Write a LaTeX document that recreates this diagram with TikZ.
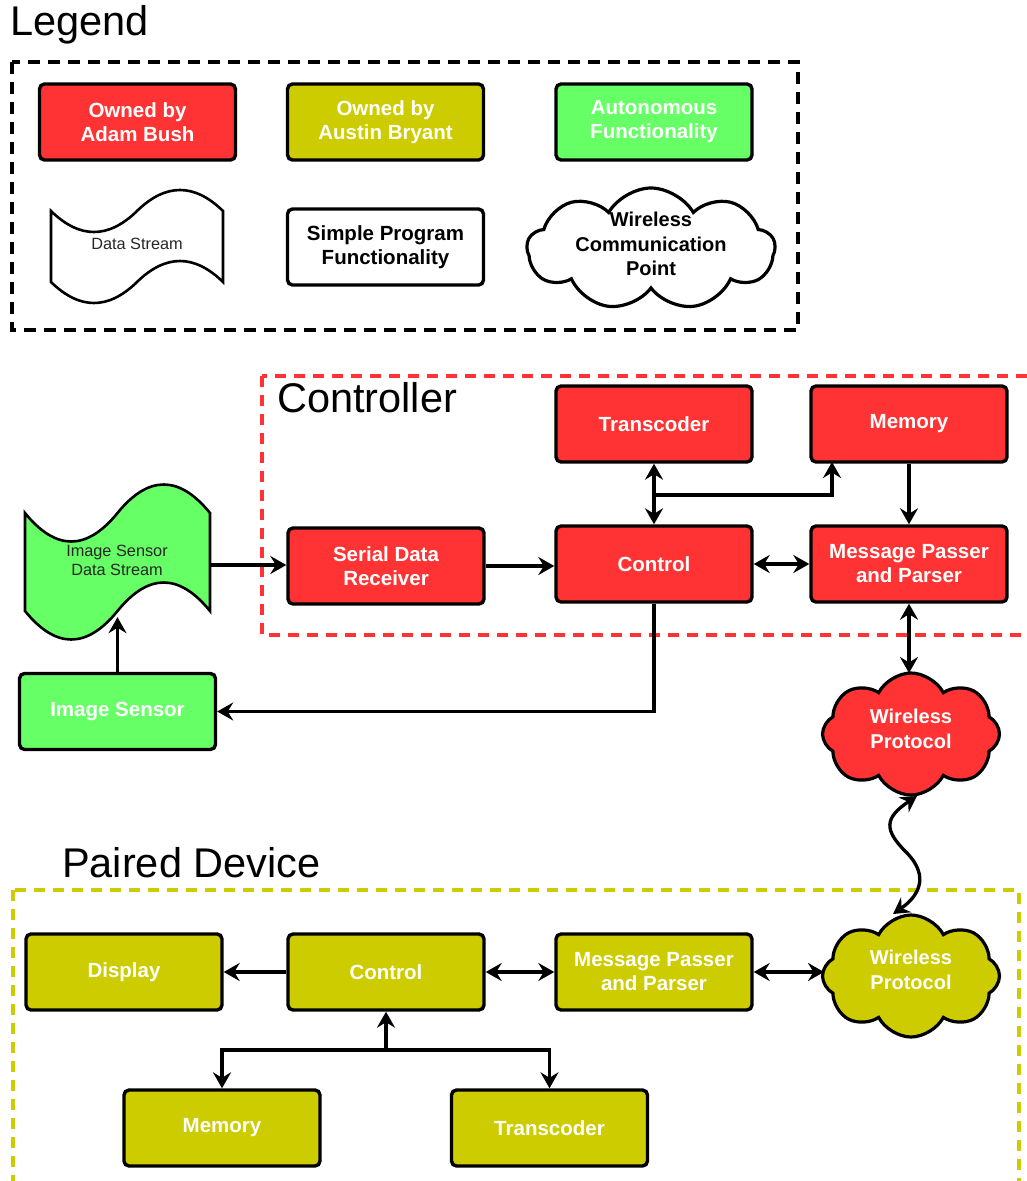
\documentclass[tikz,border=0pt]{standalone}
\usepackage{fontspec}
\setmainfont{Liberation Sans}
\usetikzlibrary{shapes.symbols,arrows.meta}
\definecolor{rd}{HTML}{FF3333}
\definecolor{ol}{HTML}{CCCC00}
\definecolor{gr}{HTML}{66FF66}
\newcommand\mystream[6]{% x0 x1 yt yb A fill
  \draw[line width=2.6pt,fill=#6]
   (#1,#3) .. controls ({#1+(#2-#1)/6},{#3+#5}) and ({#1+(#2-#1)/3},{#3+#5}) .. ({(#1+#2)/2},#3)
   .. controls ({#1+(#2-#1)*2/3},{#3-#5}) and ({#1+(#2-#1)*5/6},{#3-#5}) .. (#2,#3)
   -- (#2,#4)
   .. controls ({#2-(#2-#1)/6},{#4-#5}) and ({#2-(#2-#1)/3},{#4-#5}) .. ({(#1+#2)/2},#4)
   .. controls ({#1+(#2-#1)/3},{#4+#5}) and ({#1+(#2-#1)/6},{#4+#5}) .. (#1,#4)
   -- cycle;}
\begin{document}
\begin{tikzpicture}[x=1pt,y=-1pt,
  box/.style={draw=black,line width=3.4pt,rounded corners=5pt,minimum width=196pt,minimum height=76pt,
    inner sep=0pt,align=center,text=white,font=\fontsize{20.5}{24}\selectfont\bfseries},
  cloudsty/.style={cloud,cloud puffs=8,cloud puff arc=125,cloud ignores aspect,draw=black,line width=3.2pt,inner sep=0pt},
  cloudtxt/.style={align=center,inner sep=0pt,text=white,font=\fontsize{20}{24.5}\selectfont\bfseries},
  streamtxt/.style={align=center,inner sep=0pt,text=black!85,font=\fontsize{16.3}{19}\selectfont},
  title/.style={anchor=base west,inner sep=0pt,font=\fontsize{41.5}{44}\selectfont},
  tip/.tip={Stealth[length=16pt,width=18pt,inset=5.5pt]},
  conn/.style={line width=3.3pt,-tip},
  dconn/.style={line width=3.3pt,tip-tip}]
\clip (0,0) rectangle (1027,1181);
\fill[white] (0,0) rectangle (1027,1181);

% ---------- Legend ----------
\node[title] (tL) at (10,35) {Legend};
\draw[black,line width=3.6pt,dash pattern=on 12pt off 8pt] (12,62) rectangle (798,330);
\node[box,fill=rd] (lgA) at (137.5,122) {Owned by\\Adam Bush};
\node[box,fill=ol] (lgB) at (385.5,122) {Owned by\\Austin Bryant};
\node[box,fill=gr] (lgC) at (654,122) {Autonomous\\Functionality};
\mystream{51}{223}{211}{282}{28}{white}
\node[streamtxt] (lgS) at (137,244) {Data Stream};
\node[box,fill=white,text=black] (lgD) at (385.5,247) {Simple Program\\Functionality};
\node[cloudsty,cloud puffs=9,cloud puff arc=120,fill=white,minimum width=248pt,minimum height=122pt] (lgW) at (651,249) {};
\node[cloudtxt,text=black] (lgWt) at (651,244) {Wireless\\Communication\\Point};

% ---------- Controller ----------
\draw[rd,line width=3.2pt,dash pattern=on 11pt off 8pt] (262,376) rectangle (1060,635);
\node[title] (tC) at (277,412) {Controller};
\node[box,fill=rd] (tr1) at (654,424) {Transcoder};
\node[box,fill=rd] (mem1) at (909,424) {Memory};
\node[box,fill=rd] (sdr) at (386,566) {Serial Data\\Receiver};
\node[box,fill=rd] (ctl1) at (654,564) {Control};
\node[box,fill=rd] (mpp1) at (909,564) {Message Passer\\and Parser};
\mystream{25}{210}{513}{611}{38}{gr}
\node[minimum width=185pt,minimum height=104pt,inner sep=0pt] (isds) at (117.5,565) {};
\node[streamtxt] (isdst) at (117,560) {Image Sensor\\Data Stream};
\node[box,fill=gr] (imgs) at (117.5,711.5) {Image Sensor};
\node[cloudsty,fill=rd,minimum width=177pt,minimum height=122pt] (wp1) at (911,734) {};
\node[cloudtxt] (wp1t) at (911,729) {Wireless\\Protocol};

% ---------- Paired device ----------
\draw[ol,line width=3.2pt,dash pattern=on 11pt off 8pt] (13,890) rectangle (1019,1230);
\node[title] (tP) at (62,877) {Paired Device};
\node[box,fill=ol] (disp) at (124,972) {Display};
\node[box,fill=ol] (ctl2) at (386,972) {Control};
\node[box,fill=ol] (mpp2) at (654,972) {Message Passer\\and Parser};
\node[box,fill=ol] (mem2) at (222,1128) {Memory};
\node[box,fill=ol] (tr2) at (549.5,1128) {Transcoder};
\node[cloudsty,fill=ol,minimum width=177pt,minimum height=122pt] (wp2) at (911,976) {};
\node[cloudtxt] (wp2t) at (911,970) {Wireless\\Protocol};

% ---------- Connectors ----------
\draw[conn] (isds.east) -- (sdr.west |- isds.east);
\draw[conn] (sdr.east) -- (ctl1.west |- sdr.east);
\draw[dconn] (ctl1.east) -- (mpp1.west);
\draw[dconn] (tr1.south) -- (ctl1.north);
\coordinate (j1) at (654,495);
\coordinate (m1in) at (832,462);
\draw[conn] (j1) -| (m1in);
\draw[conn] (mem1.south) -- (mpp1.north);
\coordinate (wp1top) at (909,673);
\draw[dconn] (mpp1.south) -- (wp1top);
\draw[conn] (ctl1.south) |- (imgs.east);
\draw[conn] (imgs.north) -- (isds.south);
\coordinate (w1) at (917,796);
\coordinate (w2) at (893,914);
\draw[dconn] (w1) .. controls (884,818) and (884,830) .. (906,852) .. controls (932,878) and (916,898) .. (w2);

\draw[conn] (ctl2.west) -- (disp.east);
\draw[dconn] (ctl2.east) -- (mpp2.west);
\coordinate (wp2w) at (824,972);
\draw[dconn] (mpp2.east) -- (wp2w);
\coordinate (j2) at (386,1050);
\draw[conn] (j2) -- (ctl2.south);
\draw[conn] (j2) -| (mem2.north);
\draw[conn] (j2) -| (tr2.north);
\end{tikzpicture}
\end{document}
